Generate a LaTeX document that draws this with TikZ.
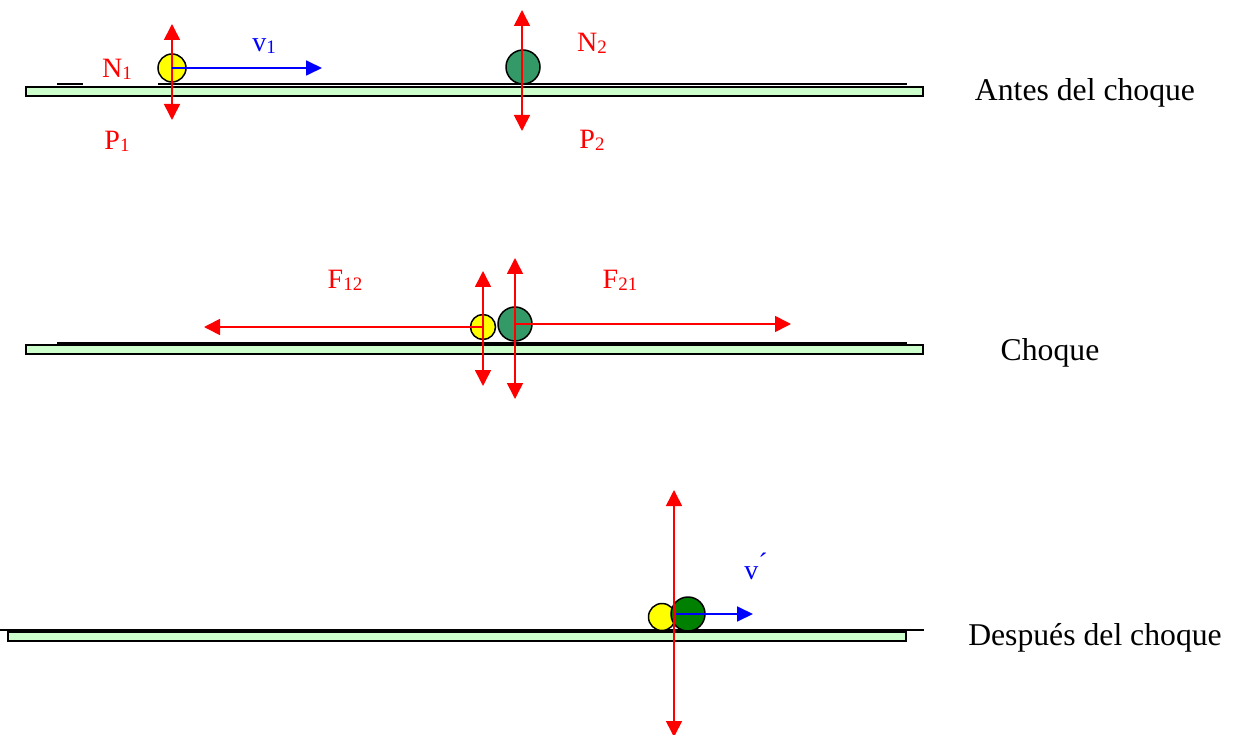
\documentclass[tikz,border=0pt]{standalone}
\usepackage{fontspec}
\setmainfont{Liberation Serif}
\usetikzlibrary{arrows.meta}
\definecolor{barfill}{HTML}{CCFFCC}
\definecolor{ballA}{HTML}{FFFF00}
\definecolor{ballB}{HTML}{339966}
\definecolor{ballC}{HTML}{008000}
\definecolor{fred}{HTML}{FF0000}
\definecolor{vblue}{HTML}{0000FF}
\newcommand\lowsub[1]{\raisebox{-0.08em}{\fontsize{19}{19}\selectfont #1}}
\tikzset{
  bar/.style={draw=black,line width=1.8pt,fill=barfill},
  floor/.style={draw=black,line width=1.8pt},
  ball/.style={circle,draw=black,line width=1.5pt,inner sep=0pt},
  force/.style={draw=fred,line width=1.6pt,-{Triangle[length=16pt,width=16pt]}},
  dforce/.style={draw=fred,line width=1.6pt,{Triangle[length=16pt,width=16pt]}-{Triangle[length=16pt,width=16pt]}},
  vel/.style={draw=vblue,line width=1.8pt,-{Triangle[length=16pt,width=15pt]}},
  flab/.style={text=fred,font=\fontsize{28}{30}\selectfont,inner sep=0pt},
  vlab/.style={text=vblue,font=\fontsize{28}{30}\selectfont,inner sep=0pt},
  caption/.style={text=black,font=\fontsize{31.7}{36}\selectfont,inner sep=0pt}
}
\begin{document}
\begin{tikzpicture}[x=1pt,y=-1pt]
\useasboundingbox (0,0) rectangle (1239,735);
% ---------- Antes del choque ----------
\draw[bar] (26,87) rectangle (923,96);
\draw[floor] (57,84) -- (83,84);
\draw[floor] (158,84) -- (907,84);
\node[ball,fill=ballA,minimum size=28pt] (y1) at (172,68) {};
\node[ball,fill=ballB,minimum size=34pt] (g1) at (523,67) {};
\coordinate (y1up) at (172,24);
\coordinate (y1dn) at (172,120);
\coordinate (g1up) at (522,10);
\coordinate (g1dn) at (522,131);
\coordinate (v1end) at (322,68);
\draw[dforce] (y1up) -- (y1dn);
\draw[dforce] (g1up) -- (g1dn);
\draw[vel] (y1.center) -- (v1end);
\node[vlab] (lv1) at (264,46) {v\lowsub{1}};
\node[flab] (lN1) at (117,69) {N\lowsub{1}};
\node[flab] (lP1) at (117,141) {P\lowsub{1}};
\node[flab] (lN2) at (592,43) {N\lowsub{2}};
\node[flab] (lP2) at (592,140) {P\lowsub{2}};
\node[caption] (c1) at (1085,93) {Antes del choque};
% ---------- Choque ----------
\draw[bar] (26,345) rectangle (923,354);
\draw[floor] (57,343) -- (907,343);
\node[ball,fill=ballA,minimum size=25pt] (y2) at (483,327) {};
\node[ball,fill=ballB,minimum size=34pt] (g2) at (515,324) {};
\coordinate (y2up) at (483,271);
\coordinate (y2dn) at (483,386);
\coordinate (g2up) at (515,258);
\coordinate (g2dn) at (515,399);
\coordinate (f12end) at (204,327);
\coordinate (f21end) at (791,324);
\draw[force] (y2.center) -- (f12end);
\draw[force] (g2.center) -- (f21end);
\draw[dforce] (y2up) -- (y2dn);
\draw[dforce] (g2up) -- (g2dn);
\node[flab] (lF12) at (345,280) {F\lowsub{12}};
\node[flab] (lF21) at (620,280) {F\lowsub{21}};
\node[caption] (c2) at (1050,353) {Choque};
% ---------- Despues del choque ----------
\draw[bar] (8,632) rectangle (906,641);
\draw[floor] (0,630) -- (924,630);
\node[ball,fill=ballA,minimum size=27pt] (y3) at (662,617) {};
\node[ball,fill=ballC,minimum size=34pt] (g3) at (688,614) {};
\coordinate (y3up) at (674,490);
\coordinate (y3dn) at (674,737);
\coordinate (v3start) at (676,614);
\coordinate (v3end) at (753,614);
\draw[dforce] (y3up) -- (y3dn);
\draw[vel] (v3start) -- (v3end);
\node[vlab] (lv3) at (756,566) {v\raisebox{0.25em}{´}};
\node[caption] (c3) at (1095,638) {Después del choque};
\end{tikzpicture}
\end{document}
